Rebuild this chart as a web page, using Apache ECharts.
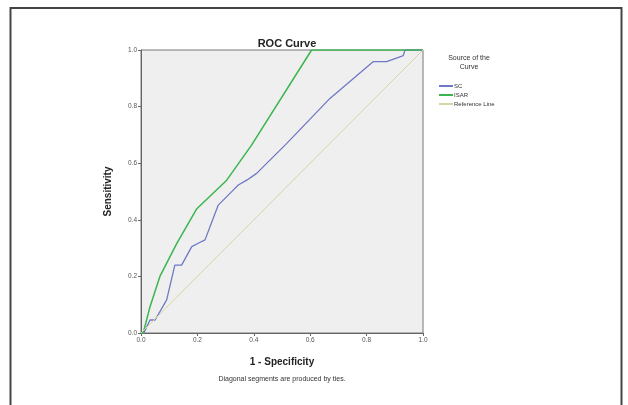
<!DOCTYPE html>
<html>
<head>
<meta charset="utf-8">
<script src="https://cdn.jsdelivr.net/npm/echarts@6/dist/echarts.min.js"></script>
<style>
  html, body { margin: 0; padding: 0; background: #fff; }
  #rocChart { width: 628px; height: 405px; }
</style>
</head>
<body>
<div id="rocChart"></div>
<script>
const tickLabels = ['0.0', '0.2', '0.4', '0.6', '0.8', '1.0'];

// SC curve (1 - specificity, sensitivity)
const scX = [0, 0.01, 0.032, 0.05, 0.091, 0.12, 0.144, 0.18, 0.203, 0.227, 0.274, 0.304, 0.327, 0.345, 0.375, 0.41, 0.517, 0.67, 0.824, 0.871, 0.918, 0.93, 0.936, 1.0];
const scY = [0, 0, 0.046, 0.046, 0.117, 0.24, 0.24, 0.305, 0.317, 0.329, 0.452, 0.482, 0.505, 0.523, 0.54, 0.564, 0.67, 0.829, 0.959, 0.959, 0.976, 0.98, 1.0, 1.0];

// ISAR curve
const isarX = [0, 0.008, 0.032, 0.067, 0.127, 0.197, 0.304, 0.392, 0.605, 1.0];
const isarY = [0, 0, 0.093, 0.2, 0.317, 0.438, 0.54, 0.664, 1.0, 1.0];

// Reference line
const refX = [0, 1];
const refY = [0, 1];

const pairs = (xs, ys) => xs.map((x, i) => [x, ys[i]]);

const rocChart = echarts.init(document.getElementById('rocChart'));
rocChart.setOption({
  animation: false,
  title: {
    text: 'ROC Curve',
    left: 282,
    top: 33,
    textAlign: 'center',
    textStyle: { fontSize: 11, fontWeight: 'bold', color: '#222', fontFamily: 'Liberation Sans' }
  },
  legend: {
    orient: 'vertical',
    left: 433,
    top: 78,
    itemWidth: 14,
    itemHeight: 2,
    itemGap: 3,
    textStyle: { fontSize: 6, color: '#333', padding: [0, 0, 0, -4] },
    data: ['SC', 'ISAR', 'Reference Line']
  },
  grid: {
    left: 141,
    top: 50,
    width: 282,
    height: 283,
    show: true,
    backgroundColor: '#efefef',
    borderColor: '#777',
    borderWidth: 1
  },
  xAxis: {
    type: 'value',
    min: 0,
    max: 1,
    interval: 0.2,
    name: '1 - Specificity',
    nameLocation: 'middle',
    nameGap: 24,
    nameTextStyle: { fontSize: 10, fontWeight: 'bold', color: '#222' },
    axisLine: { lineStyle: { color: '#666' } },
    axisTick: { length: 3, lineStyle: { color: '#666' } },
    axisLabel: { fontSize: 6.5, color: '#555', margin: 4, formatter: (v) => tickLabels[Math.round(v * 5)] },
    splitLine: { show: false }
  },
  yAxis: {
    type: 'value',
    min: 0,
    max: 1,
    interval: 0.2,
    name: 'Sensitivity',
    nameLocation: 'middle',
    nameGap: 28,
    nameTextStyle: { fontSize: 10, fontWeight: 'bold', color: '#222' },
    axisLine: { show: true, lineStyle: { color: '#666' } },
    axisTick: { show: true, length: 3, lineStyle: { color: '#666' } },
    axisLabel: { fontSize: 6.5, color: '#555', margin: 4, formatter: (v) => tickLabels[Math.round(v * 5)] },
    splitLine: { show: false }
  },
  graphic: [
    {
      type: 'rect',
      shape: { x: 10.5, y: 8, width: 611, height: 410 },
      style: { fill: 'none', stroke: '#444', lineWidth: 2 },
      silent: true
    },
    {
      type: 'text',
      x: 469,
      y: 54,
      style: { text: 'Source of the\nCurve', fontSize: 7, fill: '#333', align: 'center', lineHeight: 9 }
    },
    {
      type: 'text',
      x: 282,
      y: 376,
      style: { text: 'Diagonal segments are produced by ties.', fontSize: 7, fill: '#333', align: 'center' }
    }
  ],
  series: [
    {
      name: 'SC',
      type: 'line',
      symbol: 'none',
      data: pairs(scX, scY),
      lineStyle: { color: '#6f78c4', width: 1.3 },
      itemStyle: { color: '#6f78c4' }
    },
    {
      name: 'ISAR',
      type: 'line',
      symbol: 'none',
      data: pairs(isarX, isarY),
      lineStyle: { color: '#3bb54e', width: 1.5 },
      itemStyle: { color: '#3bb54e' }
    },
    {
      name: 'Reference Line',
      type: 'line',
      symbol: 'none',
      data: pairs(refX, refY),
      lineStyle: { color: '#d8d4a4', width: 1 },
      itemStyle: { color: '#d8d4a4' }
    }
  ]
});
</script>
</body>
</html>
